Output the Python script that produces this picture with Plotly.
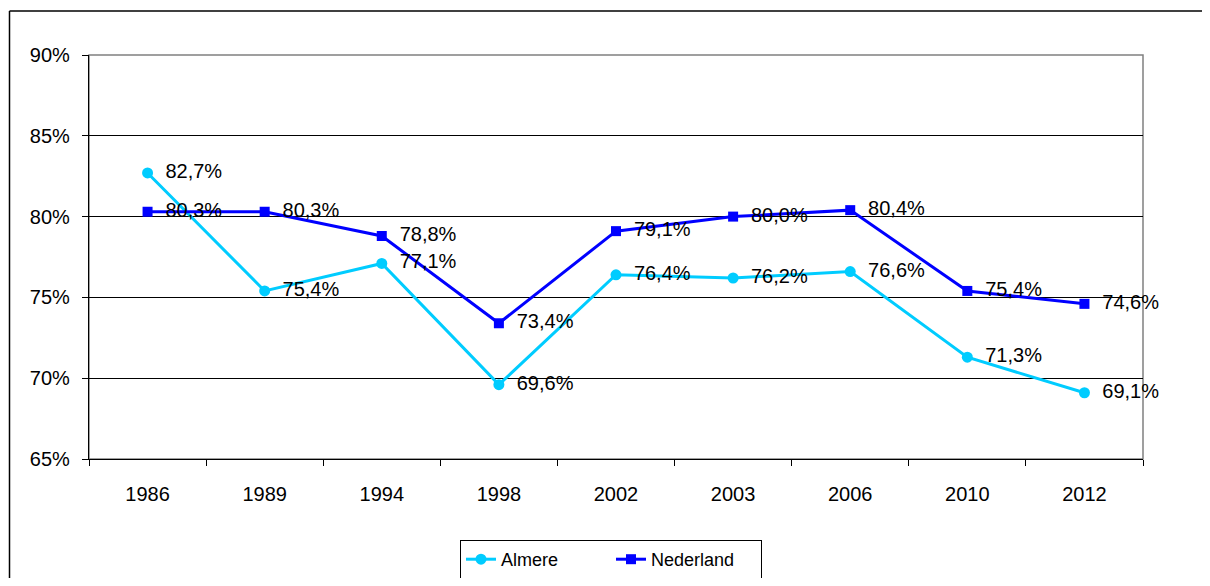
import plotly.graph_objects as go

years = ["1986", "1989", "1994", "1998", "2002", "2003", "2006", "2010", "2012"]
almere = [82.7, 75.4, 77.1, 69.6, 76.4, 76.2, 76.6, 71.3, 69.1]
nederland = [80.3, 80.3, 78.8, 73.4, 79.1, 80.0, 80.4, 75.4, 74.6]
y_ticks = [65, 70, 75, 80, 85, 90]

def lab(v):
    return f"{v:.1f}%".replace(".", ",")

OFF = 8  # page body margin
W, H = 1210 - 2 * OFF, 586 - 2 * OFF
L, R, T, B = 89, 1143, 55, 459  # page coordinates of plot area
pw, ph = R - L, B - T

def px(x):
    return (x - L) / pw

def py(y):
    return (B - y) / ph

font = "Liberation Sans, Arial, sans-serif"

fig = go.Figure()
fig.add_trace(go.Scatter(
    x=years, y=almere, name="Almere", mode="lines+markers",
    line=dict(color="#00CCFF", width=3),
    marker=dict(symbol="circle", size=11, color="#00CCFF"),
))
fig.add_trace(go.Scatter(
    x=years, y=nederland, name="Nederland", mode="lines+markers",
    line=dict(color="#0000FF", width=3),
    marker=dict(symbol="square", size=10, color="#0000FF"),
))
# data labels (invisible larger markers push the text to the right)
for series in (almere, nederland):
    fig.add_trace(go.Scatter(
        x=years, y=series, mode="markers+text", showlegend=False, hoverinfo="skip",
        marker=dict(size=27, color="rgba(0,0,0,0)"),
        text=[lab(v) for v in series], textposition="middle right",
        textfont=dict(family=font, size=20, color="black"),
        cliponaxis=False,
    ))

right_page = OFF + W
bottom_page = OFF + H
shapes = [
    # outer chart frame (top and left edges; the rest lies outside the view)
    dict(type="line", xref="paper", yref="paper", x0=px(9.5), x1=px(right_page), y0=py(11), y1=py(11),
         line=dict(color="black", width=1.5), layer="below"),
    dict(type="line", xref="paper", yref="paper", x0=px(9.5), x1=px(9.5), y0=py(11), y1=py(bottom_page),
         line=dict(color="black", width=1.5), layer="below"),
    # plot area border (gray)
    dict(type="rect", xref="paper", yref="paper", x0=0, x1=1, y0=0, y1=1,
         line=dict(color="#808080", width=1.5), layer="below"),
]

fig.update_layout(
    width=W, height=H,
    margin=dict(l=L - OFF, r=right_page - R, t=T - OFF, b=bottom_page - B, autoexpand=False),
    paper_bgcolor="white", plot_bgcolor="white",
    font=dict(family=font, size=20, color="black"),
    shapes=shapes,
    showlegend=True,
    legend=dict(
        orientation="h", x=px(611), xanchor="center", y=py(540), yanchor="top",
        bordercolor="black", borderwidth=1, bgcolor="white",
        font=dict(family=font, size=18, color="black"),
        entrywidth=105, entrywidthmode="pixels",
    ),
    xaxis=dict(
        type="category", range=[-0.5, 8.5], showgrid=False,
        showline=True, linecolor="black", linewidth=1.2,
        ticks="outside", tickson="boundaries", ticklen=6, tickcolor="black",
        tickfont=dict(family=font, size=20, color="black"),
        ticklabelstandoff=17,
        zeroline=False, fixedrange=True,
    ),
    yaxis=dict(
        range=[65, 90], tickmode="array", tickvals=y_ticks,
        ticktext=[f"{v}%" for v in y_ticks],
        showgrid=True, gridcolor="black", gridwidth=1,
        showline=True, linecolor="black", linewidth=1.2,
        ticks="outside", ticklen=6, tickcolor="black",
        tickfont=dict(family=font, size=20, color="black"),
        ticklabelstandoff=8,
        zeroline=False, fixedrange=True,
    ),
)

fig.write_html("out.html")
